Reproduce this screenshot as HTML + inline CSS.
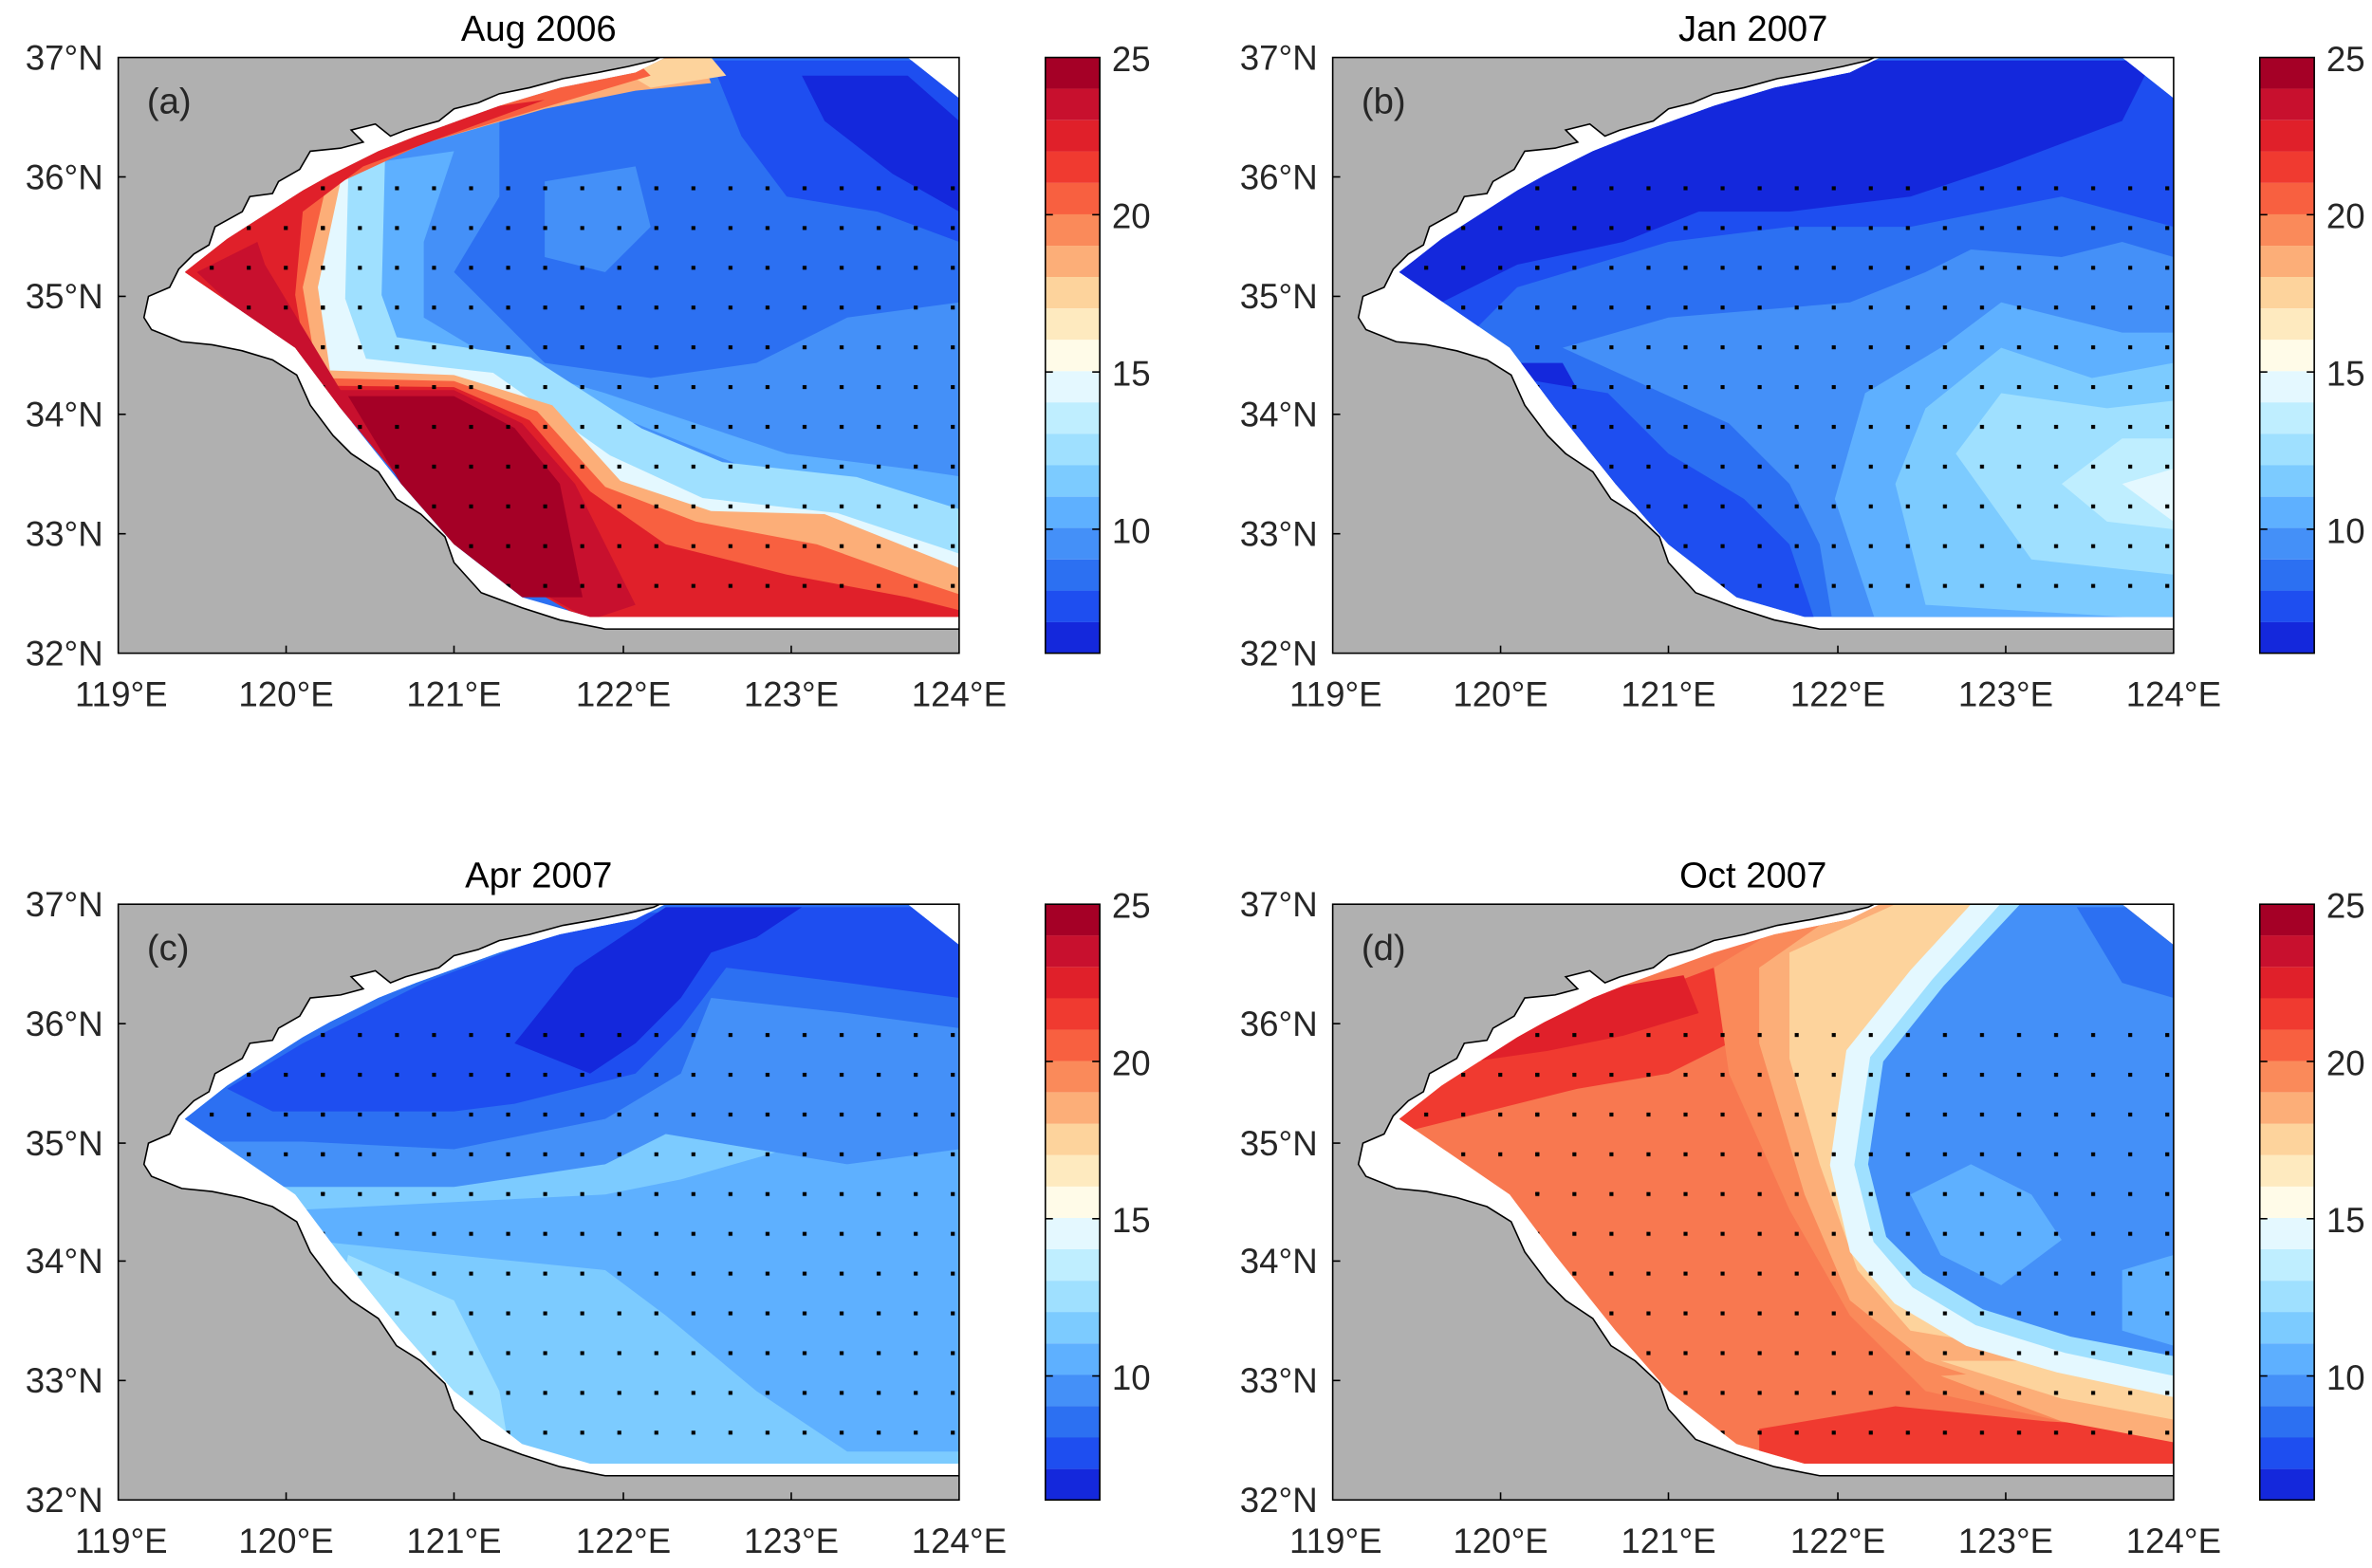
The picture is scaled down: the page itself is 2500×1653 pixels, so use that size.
<!DOCTYPE html>
<html><head><meta charset="utf-8"><style>
html,body{margin:0;padding:0;background:#fff;}
svg{display:block;font-family:"Liberation Sans",Arial,sans-serif;}
</style></head><body>
<svg width="2500" height="1653" viewBox="0 0 1568 1037" xmlns="http://www.w3.org/2000/svg">
<defs>
 <clipPath id="ax"><rect x="78" y="38" width="556" height="394"/></clipPath>
 <clipPath id="col"><polygon points="122,180 150,158 200,126 218,116 250,100 275,90 330,70 370,58 420,48 440,38 600,38 634,65 634,408 390,408 345,395 300,360 265,320 225,270 195,230"/></clipPath>
 <pattern id="dots" width="24.5" height="26.3" patternUnits="userSpaceOnUse" x="6" y="8"><rect x="10" y="10" width="2.6" height="2.6" fill="#000"/></pattern>
 <g id="base">
  <rect x="78" y="38" width="556" height="394" fill="#b0b0b0"/>
  <g clip-path="url(#ax)">
  <polygon fill="#fff" stroke="#000" stroke-width="1" points="95,210 98,196 112,190 118,178 128,168 138,162 142,150 160,140 165,130 180,128 184,120 198,112 205,100 225,98 240,94 232,86 248,82 258,90 268,86 290,80 300,72 316,68 330,62 350,58 372,52 395,48 415,44 432,40 440,36 640,36 640,416 400,416 370,410 345,402 318,392 300,372 294,355 278,340 262,330 250,312 232,300 220,288 205,268 196,248 180,238 160,232 140,228 120,226 100,218"/>
  </g>
 </g>
 <g id="frame">
  <rect x="78" y="38" width="556" height="394" fill="none" stroke="#000" stroke-width="1"/>
  <g stroke="#000" stroke-width="1">
   <line x1="189" y1="432" x2="189" y2="427"/><line x1="300" y1="432" x2="300" y2="427"/><line x1="412" y1="432" x2="412" y2="427"/><line x1="523" y1="432" x2="523" y2="427"/>
   <line x1="78" y1="117" x2="83" y2="117"/><line x1="78" y1="196" x2="83" y2="196"/><line x1="78" y1="274" x2="83" y2="274"/><line x1="78" y1="353" x2="83" y2="353"/>
  </g>
  <g font-size="23" fill="#262626" text-anchor="end">
   <text x="68" y="46">37°N</text><text x="68" y="125">36°N</text><text x="68" y="204">35°N</text><text x="68" y="282">34°N</text><text x="68" y="361">33°N</text><text x="68" y="440">32°N</text>
  </g>
  <g font-size="23" fill="#262626" text-anchor="middle">
   <text x="80" y="467">119°E</text><text x="189" y="467">120°E</text><text x="300" y="467">121°E</text><text x="412" y="467">122°E</text><text x="523" y="467">123°E</text><text x="634" y="467">124°E</text>
  </g>
  <g>
   <rect x="691" y="38.0" width="36" height="20.8" fill="#a50026"/>
   <rect x="691" y="58.7" width="36" height="20.8" fill="#c8102e"/>
   <rect x="691" y="79.5" width="36" height="20.8" fill="#e0202a"/>
   <rect x="691" y="100.2" width="36" height="20.8" fill="#f03a30"/>
   <rect x="691" y="121.0" width="36" height="20.8" fill="#f86040"/>
   <rect x="691" y="141.7" width="36" height="20.8" fill="#fa8a5a"/>
   <rect x="691" y="162.5" width="36" height="20.8" fill="#fcae78"/>
   <rect x="691" y="183.2" width="36" height="20.8" fill="#fdd39c"/>
   <rect x="691" y="204.0" width="36" height="20.8" fill="#feeabf"/>
   <rect x="691" y="224.7" width="36" height="20.8" fill="#fffbe8"/>
   <rect x="691" y="245.5" width="36" height="20.8" fill="#e4f8ff"/>
   <rect x="691" y="266.2" width="36" height="20.8" fill="#bfeeff"/>
   <rect x="691" y="287.0" width="36" height="20.8" fill="#9fe0ff"/>
   <rect x="691" y="307.7" width="36" height="20.8" fill="#7ccbff"/>
   <rect x="691" y="328.5" width="36" height="20.8" fill="#5eb0ff"/>
   <rect x="691" y="349.2" width="36" height="20.8" fill="#4490f8"/>
   <rect x="691" y="370.0" width="36" height="20.8" fill="#2c70f2"/>
   <rect x="691" y="390.7" width="36" height="20.8" fill="#1e4ef0"/>
   <rect x="691" y="411.5" width="36" height="20.5" fill="#1428dc"/>
   <rect x="691" y="38" width="36" height="394" fill="none" stroke="#000" stroke-width="1"/>
   <g stroke="#000"><line x1="722" y1="142" x2="727" y2="142"/><line x1="722" y1="246" x2="727" y2="246"/><line x1="722" y1="350" x2="727" y2="350"/><line x1="691" y1="142" x2="696" y2="142"/><line x1="691" y1="246" x2="696" y2="246"/><line x1="691" y1="350" x2="696" y2="350"/></g>
   <g font-size="23" fill="#262626"><text x="735" y="47">25</text><text x="735" y="151">20</text><text x="735" y="255">15</text><text x="735" y="359">10</text></g>
  </g>
 </g>
 <rect id="dotlayer" x="200" y="100" width="440" height="320" fill="url(#dots)"/>
</defs>

<!-- Panel a -->
<g>
 <use href="#base"/>
 <g clip-path="url(#col)">
  <rect x="78" y="38" width="556" height="394" fill="#2c70f2"/>
  <polygon fill="#4490f8" points="78,38 330,60 330,130 300,180 360,240 430,250 500,240 560,210 634,200 634,380 500,330 400,290 300,250 200,230"/>
  <polygon fill="#4490f8" points="360,120 420,110 430,150 400,180 360,170"/>
  <polygon fill="#1e4ef0" points="470,40 634,40 634,160 580,140 520,130 490,90"/>
  <polygon fill="#1428dc" points="530,50 600,50 634,80 634,140 590,115 545,80"/>
  <polygon fill="#5eb0ff" points="230,110 300,100 280,160 280,210 330,240 400,260 460,280 520,300 600,310 634,315 634,345 520,320 420,280 330,262 250,240"/>
  <polyline fill="none" stroke="#9fe0ff" stroke-width="60" points="225,80 222,200 240,250 340,265 410,310 470,335 560,345 640,370"/>
  <polyline fill="none" stroke="#e4f8ff" stroke-width="32" points="215,80 212,200 230,252 320,262 395,315 460,345 550,355 640,385"/>
  <polygon fill="#fcae78" points="122,180 200,100 460,30 470,55 420,60 360,72 280,95 225,120 210,190 218,245 300,248 365,268 410,318 470,338 545,340 640,378 640,410 390,410 300,360 225,270"/>
  <polygon fill="#fdd39c" points="400,40 470,38 480,50 430,58"/>
  <polygon fill="#f86040" points="122,180 200,100 420,40 430,50 370,68 280,95 215,125 200,190 210,250 300,252 355,272 400,322 460,345 540,360 610,385 640,395 640,410 390,410 300,360 225,270"/>
  <polygon fill="#e0202a" points="122,180 200,110 330,70 360,66 300,88 240,110 200,140 195,195 205,255 300,256 350,278 390,325 440,360 520,380 600,395 640,405 640,412 390,412 300,360 225,270"/>
  <polygon fill="#c8102e" points="130,180 170,160 175,175 225,258 300,258 345,280 380,320 400,360 420,400 390,410 300,360 225,270"/>
  <polygon fill="#a50026" points="230,262 300,262 340,283 370,320 385,395 345,395 300,360 265,320"/>
 </g>
 <g clip-path="url(#col)"><use href="#dotlayer"/><rect x="100" y="140" width="120" height="90" fill="url(#dots)"/></g>
 <text x="356" y="27" font-size="24" fill="#000" text-anchor="middle">Aug 2006</text>
 <text x="97" y="75" font-size="24" fill="#262626">(a)</text>
 <use href="#frame"/>
</g>

<!-- Panel b -->
<g transform="translate(803,0)">
 <use href="#base"/>
 <g clip-path="url(#col)">
  <rect x="78" y="38" width="556" height="394" fill="#2c70f2"/>
  <polygon fill="#1e4ef0" points="100,100 300,40 634,40 634,150 560,130 460,150 380,150 300,160 200,190 150,240 100,240"/>
  <polygon fill="#1428dc" points="100,100 250,60 360,40 620,40 600,80 520,110 460,130 380,140 320,140 270,160 200,175 150,200 100,210"/>
  <polygon fill="#1428dc" points="180,240 230,240 280,330 340,420 280,420"/>
  <polygon fill="#1e4ef0" points="200,250 260,260 300,300 350,330 380,360 400,420 330,420 260,320"/>
  <polygon fill="#4490f8" points="230,230 300,210 420,200 470,180 500,165 560,170 600,160 634,170 634,420 410,420 400,360 380,320 340,280"/>
  <polygon fill="#5eb0ff" points="410,330 430,260 480,230 520,200 600,220 634,220 634,420 440,420"/>
  <polygon fill="#7ccbff" points="450,320 470,270 520,230 580,250 634,240 634,410 470,400"/>
  <polygon fill="#9fe0ff" points="490,300 520,260 590,270 634,265 634,380 540,370"/>
  <polygon fill="#bfeeff" points="560,320 600,290 634,290 634,350 590,345"/>
  <polygon fill="#e4f8ff" points="600,320 634,310 634,345"/>
 </g>
 <g clip-path="url(#col)"><use href="#dotlayer"/><rect x="100" y="140" width="120" height="90" fill="url(#dots)"/></g>
 <text x="356" y="27" font-size="24" fill="#000" text-anchor="middle">Jan 2007</text>
 <text x="97" y="75" font-size="24" fill="#262626">(b)</text>
 <use href="#frame"/>
</g>

<!-- Panel c -->
<g transform="translate(0,560)">
 <use href="#base"/>
 <g clip-path="url(#col)">
  <rect x="78" y="38" width="556" height="394" fill="#7ccbff"/>
  <polygon fill="#5eb0ff" points="78,230 200,240 300,235 400,230 450,220 520,200 634,200 634,400 560,400 500,360 440,310 400,280 300,270 200,260 78,260"/>
  <polygon fill="#9fe0ff" points="230,270 300,300 330,360 340,420 200,420"/>
  <polygon fill="#4490f8" points="78,38 634,38 634,200 560,210 500,200 440,190 400,210 300,225 200,225 78,225"/>
  <polygon fill="#2c70f2" points="78,38 634,38 634,120 560,110 470,100 450,150 400,180 300,200 200,195 130,195 78,195"/>
  <polygon fill="#1e4ef0" points="150,160 200,130 280,90 400,45 520,40 634,40 634,100 560,90 480,80 450,120 420,150 380,160 340,170 300,175 250,175 180,175"/>
  <polygon fill="#1428dc" points="340,130 380,80 440,40 530,40 500,60 470,70 450,100 420,130 390,150"/>
 </g>
 <g clip-path="url(#col)"><use href="#dotlayer"/><rect x="100" y="140" width="120" height="90" fill="url(#dots)"/></g>
 <text x="356" y="27" font-size="24" fill="#000" text-anchor="middle">Apr 2007</text>
 <text x="97" y="75" font-size="24" fill="#262626">(c)</text>
 <use href="#frame"/>
</g>

<!-- Panel d -->
<g transform="translate(803,560)">
 <use href="#base"/>
 <g clip-path="url(#col)">
  <rect x="78" y="38" width="556" height="394" fill="#f87850"/>
  <polygon fill="#f03a30" points="100,170 180,140 250,110 290,95 330,80 340,130 300,150 240,160 180,175 120,190"/>
  <polygon fill="#e0202a" points="150,145 220,110 270,92 310,85 320,110 270,125 220,135"/>
  <polygon fill="#f03a30" points="360,385 450,370 550,380 640,385 640,420 360,420"/>
  <polygon fill="#fa8a5a" points="330,80 400,38 560,38 560,380 470,360 420,310 380,240 340,150"/>
  <polygon fill="#fcae78" points="360,80 420,38 540,38 530,360 470,340 420,300 390,230 360,130"/>
  <polygon fill="#fdd39c" points="380,70 450,38 530,38 520,330 460,320 425,280 400,210 380,140"/>
  <polygon fill="#fcae78" points="480,350 560,345 640,360 640,395 560,380"/>
  <polygon fill="#fdd39c" points="480,340 560,340 640,355 640,380 560,365"/>
  <polyline fill="none" stroke="#e4f8ff" stroke-width="26" points="525,30 470,90 430,140 420,210 432,262 458,292 502,318 560,335 640,352"/>
  <polyline fill="none" stroke="#9fe0ff" stroke-width="14" points="536,30 480,92 440,142 430,210 442,258 466,286 506,310 564,328 640,344"/>
  <polygon fill="#4490f8" points="540,30 640,30 640,338 566,324 508,306 468,282 444,258 432,210 442,142 482,92"/>
  <polygon fill="#5eb0ff" points="460,230 500,210 540,230 560,260 520,290 480,270"/>
  <polygon fill="#5eb0ff" points="600,280 634,270 634,330 600,320"/>
  <polygon fill="#2c70f2" points="570,40 634,40 634,100 600,90"/>
 </g>
 <g clip-path="url(#col)"><use href="#dotlayer"/><rect x="100" y="140" width="120" height="90" fill="url(#dots)"/></g>
 <text x="356" y="27" font-size="24" fill="#000" text-anchor="middle">Oct 2007</text>
 <text x="97" y="75" font-size="24" fill="#262626">(d)</text>
 <use href="#frame"/>
</g>
</svg>
</body></html>
